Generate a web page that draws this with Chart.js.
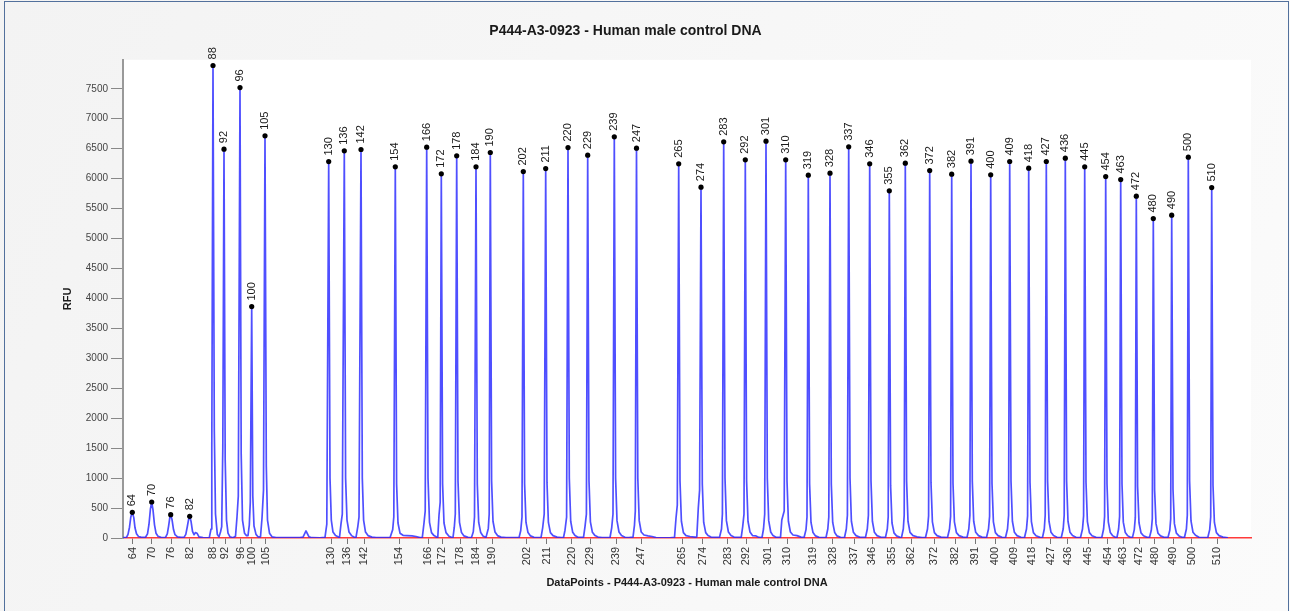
<!DOCTYPE html>
<html>
<head>
<meta charset="utf-8">
<script src="https://cdn.jsdelivr.net/npm/chart.js@4.4.1/dist/chart.umd.min.js"></script>
<style>
html,body{margin:0;padding:0;background:#f7f7f7;}
#wrap{width:1290px;height:611px;}
</style>
</head>
<body>
<div id="wrap"><canvas id="c" width="1290" height="611"></canvas></div>
<script>
// Fragment sizes (peak labels / x tick labels)
const sizeLabels = [64,70,76,82,88,92,96,100,105,130,136,142,154,166,172,178,184,190,202,211,220,229,239,247,265,274,283,292,301,310,319,328,337,346,355,362,372,382,391,400,409,418,427,436,445,454,463,472,480,490,500,510];
// Peak apex positions (data points)
const peakPos = [132.3,151.7,170.7,189.7,213,224,240,251.7,265,328.7,344.3,361,395.3,426.7,441.3,456.7,476,490.3,523.3,545.7,568,587.7,614.3,636.5,678.7,701,723.7,745.3,766,785.7,808.3,830,848.7,869.7,889.3,905.3,929.7,951.7,971,990.7,1009.7,1028.7,1046.3,1065.3,1084.7,1105.7,1120.7,1136.3,1153.3,1171.7,1188.3,1211.7];
// Peak heights (RFU)
const peakHeight = [429,601,389,362,7889,6492,7521,3864,6714,6285,6464,6486,6197,6525,6080,6380,6197,6436,6118,6168,6519,6392,6698,6509,6247,5858,6614,6314,6626,6314,6058,6091,6531,6247,5796,6258,6135,6074,6292,6063,6286,6174,6286,6341,6197,6035,5985,5707,5333,5390,6358,5851];
// Positions of the x-axis size ticks (data points)
const tickPos = [132.7,151.7,171,189.7,213.3,225,240.5,251.7,265.7,331,347.3,364,399,428.3,442.3,460.3,476,492.3,526.7,546.7,571.7,590,616,641.3,682,702.7,727.7,746,768,787.3,812.7,832.7,854,872.3,891.7,911,934,955,975,995,1014,1031.7,1050.7,1067.7,1088,1107.7,1123.3,1139.3,1154.7,1173.3,1191.7,1217.3];
// Y axis ticks
const yTicks = [0,500,1000,1500,2000,2500,3000,3500,4000,4500,5000,5500,6000,6500,7000,7500];
// Raw trace [datapoint, RFU]
const trace = [
[123,5],[125,8],
[126.5,12],[128,60],[129.5,180],[130.8,350],[132.3,429],[133.8,340],[135,170],[136.5,70],[138.5,25],[141,15],[144,10],
[145.5,12],[147.5,70],[149,230],[150.4,480],[151.7,601],[153,470],[154.5,220],[156,80],[158,30],[161,12],[163.5,8],
[165.5,12],[167.3,70],[168.6,200],[169.8,340],[170.7,389],[172,310],[173.5,140],[175,55],[177.5,20],[181,10],
[184,10],[185.8,60],[187.2,180],[188.6,310],[189.7,362],[191,280],[192.5,110],[194,55],[195.5,90],[197,80],[199,20],[203,5],
[206,3],
[209.3,5],[211,150],[211.8,1500],[213,7889],[214.3,1800],[215.5,400],[217.3,60],[219,20],
[220.5,100],[221.7,190],[222.8,1500],[224,6492],[225.2,1300],[226.5,300],[228,80],[230,20],[233,5],
[235.5,30],[237,350],[238.3,700],[240,7521],[241.2,1400],[242.5,300],[244.5,80],[246.5,40],
[248,40],[249.3,217],[250.3,600],[251.7,3864],[252.8,700],[254,200],[256,60],[258,20],
[260.5,20],[262,330],[263.5,800],[265,6714],[266.3,1200],[267.5,300],[269.5,80],[272,20],[276,5],
[300,5],[303,15],[306,117],[309,20],[312,5],[320,3],
[325,10],[326.8,230],[328.7,6285],[330,1000],[331.3,300],[333,100],[335.5,40],[338.5,15],
[339.5,10],[341,235],[342.3,400],[344.3,6464],[345.6,1000],[347,300],[349,100],[351.5,40],[354,15],
[356,10],[357.8,190],[359,350],[361,6486],[362.3,1000],[363.6,300],[365.5,100],[368,40],[372,15],[376,5],
[390,5],[392.7,140],[393.8,350],[395.3,6197],[396.6,900],[398,250],[400,80],[403,45],[407,40],[412,35],[416,25],[420,8],
[422.3,5],[424,250],[425.2,450],[426.7,6525],[428,1000],[429.5,260],[431.5,90],[434,40],[437,12],
[437.8,20],[439,380],[440.2,600],[441.3,6080],[442.6,900],[444,250],[446,90],[449,30],[452,8],
[453,10],[454.3,180],[455.3,400],[456.7,6380],[458,950],[459.5,260],[461.5,90],[464,35],[468,10],
[471.5,8],[473.3,105],[474.5,350],[476,6197],[477.3,900],[478.7,260],[480.7,90],[483,35],[486,10],
[486.8,10],[488.3,160],[489.2,400],[490.3,6436],[491.6,950],[493,280],[495,100],[497.5,40],[501,15],[506,5],
[519,5],[520.7,120],[522,350],[523.3,6118],[524.6,900],[526,260],[528,90],[530.5,35],[534,12],[538,5],
[541,8],[542.7,175],[544.2,400],[545.7,6168],[547,920],[548.4,260],[550.4,90],[553,40],[557,15],[561,5],
[563.5,8],[565,130],[566.6,350],[568,6519],[569.3,1000],[570.7,280],[572.7,95],[575,40],[578,12],
[583.5,10],[585,190],[586.4,400],[587.7,6392],[589,950],[590.4,270],[592.4,95],[595,40],[598,15],[602,5],
[610,8],[611.7,170],[613,400],[614.3,6698],[615.6,1000],[617,290],[619,100],[621.5,40],[625,12],[629,5],
[633,15],[634.5,220],[635.3,450],[636.5,6509],[637.8,1000],[639.2,290],[641.2,100],[644,50],[648,35],[652,25],[656,8],
[670,3],
[674.5,10],[676,330],[677.3,550],[678.7,6247],[680,950],[681.4,280],[683.4,90],[686,40],[690,25],[695,15],
[696.8,20],[698.3,500],[699.6,800],[701,5858],[702.3,900],[703.7,260],[705.7,90],[708,40],[711,15],
[719.5,10],[721.5,150],[722.4,400],[723.7,6614],[725,1000],[726.4,290],[728.4,100],[731,40],[734,15],
[741.2,10],[742.7,190],[744,400],[745.3,6314],[746.6,950],[748,280],[750,100],[752.5,40],[756,35],[759,10],
[762,8],[763.5,150],[764.7,400],[766,6626],[767.3,1000],[768.7,290],[770.7,100],[773,40],[776,12],
[780.5,10],[781.8,300],[784.2,450],[785.7,6314],[787,950],[788.4,280],[790.4,100],[793,50],[797,40],[801,15],
[804,5],[806,140],[807,350],[808.3,6058],[809.6,900],[811,260],[813,90],[815.5,35],[819,10],
[826,8],[827.8,150],[828.8,350],[830,6091],[831.3,900],[832.7,260],[834.7,90],[837,35],[840.5,10],
[844.5,8],[846.3,150],[847.4,380],[848.7,6531],[850,1000],[851.4,280],[853.4,95],[856,40],[860,12],
[865.5,10],[867.3,150],[868.4,380],[869.7,6247],[871,950],[872.4,280],[874.4,95],[877,40],[881,12],
[885.5,10],[887.3,150],[888.2,350],[889.3,5796],[890.6,870],[892,250],[894,85],[896.5,35],[900,10],
[901.5,8],[903.3,150],[904.2,380],[905.3,6258],[906.6,950],[908,280],[910,95],[913,40],[917,20],[922,5],
[925.5,8],[927.5,150],[928.6,370],[929.7,6135],[931,920],[932.4,270],[934.4,90],[937,40],[941,15],
[947.5,8],[949.5,150],[950.6,360],[951.7,6074],[953,910],[954.4,270],[956.4,90],[959,40],[963,15],
[967,8],[968.8,150],[969.9,380],[971,6292],[972.3,950],[973.7,280],[975.7,95],[978.5,40],[982,15],
[986.5,8],[988.5,150],[989.6,360],[990.7,6063],[992,910],[993.4,270],[995.4,90],[998,40],[1002,12],
[1005.5,8],[1007.5,150],[1008.6,380],[1009.7,6286],[1011,950],[1012.4,280],[1014.4,95],[1017,40],[1021,12],
[1024.5,8],[1026.5,150],[1027.6,370],[1028.7,6174],[1030,930],[1031.4,275],[1033.4,90],[1036,38],[1040,10],
[1042.5,8],[1044.3,150],[1045.2,380],[1046.3,6286],[1047.6,950],[1049,280],[1051,95],[1053.5,40],[1057,12],
[1061.3,8],[1063.2,150],[1064.2,380],[1065.3,6341],[1066.6,950],[1068,280],[1070,95],[1072.5,40],[1076,12],
[1080.5,8],[1082.5,150],[1083.6,370],[1084.7,6197],[1086,930],[1087.4,275],[1089.4,90],[1092,38],[1096,10],
[1101.8,8],[1103.6,150],[1104.6,360],[1105.7,6035],[1107,900],[1108.3,270],[1110.3,90],[1112.5,40],[1115,15],
[1117,12],[1118.6,150],[1119.6,360],[1120.7,5985],[1122,900],[1123.3,265],[1125.3,90],[1127.5,40],[1130,15],
[1132.5,10],[1134.3,140],[1135.3,340],[1136.3,5707],[1137.6,860],[1139,255],[1141,85],[1143.5,38],[1147,12],
[1149.5,10],[1151.3,130],[1152.3,320],[1153.3,5333],[1154.6,800],[1156,240],[1158,80],[1160.5,35],[1164,12],
[1168,10],[1169.8,130],[1170.7,320],[1171.7,5390],[1173,810],[1174.4,240],[1176.4,80],[1179,35],[1182,12],
[1184.5,12],[1186.4,150],[1187.3,380],[1188.3,6358],[1189.6,950],[1191,285],[1193,95],[1195.5,45],[1199,12],[1204,5],
[1207.8,8],[1209.7,140],[1210.7,350],[1211.7,5851],[1213,880],[1214.4,260],[1216.4,90],[1219,40],[1223,15],[1228,3]
];

const chartTitle = 'P444-A3-0923 - Human male control DNA';
const xTitle = 'DataPoints - P444-A3-0923 - Human male control DNA';
const yTitle = 'RFU';
const FONT = "'Liberation Sans', Arial, sans-serif";

const bgPlugin = {
  id: 'bg',
  beforeDraw(chart) {
    const ctx = chart.ctx, ca = chart.chartArea;
    ctx.save();
    const g = ctx.createLinearGradient(0, 0, chart.width, chart.height);
    g.addColorStop(0, '#f3f3f3');
    g.addColorStop(1, '#fbfbfb');
    ctx.fillStyle = g;
    ctx.fillRect(0, 0, chart.width, chart.height);
    ctx.fillStyle = '#ffffff';
    ctx.fillRect(ca.left, ca.top, ca.right - ca.left, ca.bottom - ca.top);
    ctx.strokeStyle = '#52709c';
    ctx.lineWidth = 1;
    ctx.strokeRect(4.5, 1.5, chart.width - 6, chart.height + 20);
    ctx.restore();
  }
};

const peakLabelPlugin = {
  id: 'peakLabels',
  afterDatasetsDraw(chart) {
    const meta = chart.getDatasetMeta(0);
    const ctx = chart.ctx;
    ctx.save();
    ctx.font = "11px " + FONT;
    ctx.fillStyle = '#1a1a1a';
    ctx.textAlign = 'left';
    ctx.textBaseline = 'middle';
    meta.data.forEach((el, i) => {
      ctx.save();
      ctx.translate(el.x, el.y - 6);
      ctx.rotate(-Math.PI / 2);
      ctx.fillText(String(sizeLabels[i]), 0, 0);
      ctx.restore();
    });
    ctx.restore();
  }
};

new Chart(document.getElementById('c'), {
  type: 'scatter',
  data: {
    datasets: [
      {
        label: 'peaks',
        order: 0,
        data: peakPos.map((x, i) => ({x: x, y: peakHeight[i]})),
        pointRadius: 2.6,
        pointBackgroundColor: '#000',
        pointBorderWidth: 0,
        showLine: false
      },
      {
        label: 'trace',
        order: 1,
        data: trace.map(p => ({x: p[0], y: p[1]})),
        showLine: true,
        pointRadius: 0,
        borderColor: 'rgba(40,40,255,0.82)',
        borderWidth: 1.7,
        borderJoinStyle: 'round',
        tension: 0
      }
    ]
  },
  options: {
    responsive: false,
    animation: false,
    devicePixelRatio: 1,
    layout: { padding: { left: 0, right: 39, top: 0, bottom: 0 } },
    plugins: {
      legend: { display: false },
      tooltip: { enabled: false },
      title: {
        display: true,
        text: chartTitle,
        color: '#1a1a1a',
        font: { family: FONT, size: 14, weight: 'bold' },
        padding: { top: 23, bottom: 20 }
      }
    },
    scales: {
      x: {
        type: 'linear',
        min: 123,
        max: 1251,
        afterBuildTicks: s => { s.ticks = tickPos.map(v => ({value: v})); },
        afterFit: s => { s.height = 73; },
        ticks: {
          autoSkip: false,
          minRotation: 90,
          maxRotation: 90,
          padding: 3,
          color: '#333',
          font: { family: FONT, size: 11 },
          callback: (v, i) => String(sizeLabels[i])
        },
        grid: { display: true, drawOnChartArea: false, drawTicks: true, tickLength: 6, color: '#777', lineWidth: 1 },
        border: { display: true, color: '#ff3b3b', width: 1.5 },
        title: {
          display: true,
          text: xTitle,
          color: '#1a1a1a',
          font: { family: FONT, size: 11, weight: 'bold' },
          padding: { top: 0, bottom: 21 }
        }
      },
      y: {
        type: 'linear',
        min: 0,
        max: 7984,
        afterBuildTicks: s => { s.ticks = yTicks.map(v => ({value: v})); },
        afterFit: s => { s.width = 123; },
        ticks: {
          padding: 3,
          color: '#444',
          font: { family: FONT, size: 10 },
          callback: v => String(v)
        },
        grid: { display: true, drawOnChartArea: false, drawTicks: true, tickLength: 12, color: '#888', lineWidth: 1 },
        border: { display: true, color: '#999', width: 2 },
        title: {
          display: true,
          text: yTitle,
          color: '#1a1a1a',
          font: { family: FONT, size: 11, weight: 'bold' },
          padding: { top: 61, bottom: 0 }
        }
      }
    }
  },
  plugins: [bgPlugin, peakLabelPlugin]
});
</script>
</body>
</html>
